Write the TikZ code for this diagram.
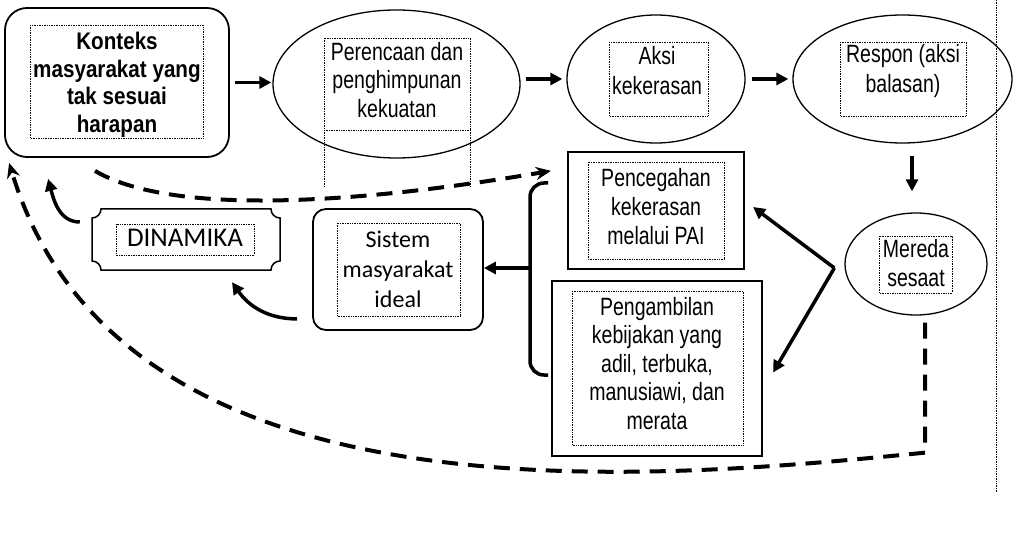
\documentclass[tikz,border=0pt]{standalone}
\usepackage{fontspec}
\setmainfont{Liberation Sans}[FakeStretch=0.78, BoldFeatures={FakeStretch=0.86}]
\newfontfamily\calibri{Carlito}
\usetikzlibrary{arrows.meta,shapes.geometric,positioning,calc}

\begin{document}
\begin{tikzpicture}[
    x=1pt, y=-1pt,
    oval/.style={draw, ellipse, line width=1.3pt, inner sep=0pt},
    sqbox/.style={draw, rectangle, line width=2.2pt, inner sep=0pt},
    rbox/.style={draw, rectangle, rounded corners=#1, line width=1.8pt, inner sep=0pt},
    dotbox/.style={densely dotted, line width=0.7pt},
    txt/.style={anchor=north, align=center, inner sep=0pt, font=\fontsize{25}{29}\selectfont},
    arr/.style={-{Triangle[length=12pt,width=12pt]}, line width=3.5pt},
    dasharr/.style={-{Stealth[length=15pt,width=13pt]}, line width=4pt, dash pattern=on 16pt off 10pt}
]
\useasboundingbox (0,0) rectangle (1028,540);

% shapes
\node[rbox=22pt, minimum width=224pt, minimum height=149pt] (konteks) at (117,82.5) {};
\node[oval, minimum width=247pt, minimum height=148pt] (perencaan) at (396.5,84) {};
\node[oval, minimum width=178pt, minimum height=128pt] (aksi) at (656,79) {};
\node[oval, minimum width=219pt, minimum height=128pt] (respon) at (902.5,79) {};
\node[oval, minimum width=142pt, minimum height=102pt] (mereda) at (916,264) {};
\node[sqbox, minimum width=176pt, minimum height=117pt] (pencegahan) at (656,210.5) {};
\node[sqbox, minimum width=210pt, minimum height=175pt] (pengambilan) at (657,368.5) {};
\node[rbox=13pt, minimum width=170pt, minimum height=121pt] (sistem) at (398,269.5) {};
\node[minimum width=188pt, minimum height=61pt, inner sep=0pt] (dinamika) at (186,239.5) {};
\draw[line width=1.5pt] (101,209) -- (271,209) .. controls (271,214) and (275,218) .. (280,218)
    -- (280,261) .. controls (275,261) and (271,265) .. (271,270)
    -- (101,270) .. controls (101,265) and (97,261) .. (92,261)
    -- (92,218) .. controls (97,218) and (101,214) .. (101,209) -- cycle;

% dotted text frames
\draw[dotbox] (30,25) rectangle (203,138);
\draw[dotbox] (324,38) rectangle (470,130);
\draw[dotbox] (324,130) -- (324,187) (470,130) -- (470,187);
\draw[dotbox] (609,42) rectangle (708,116);
\draw[dotbox] (840,42) rectangle (966,116);
\draw[dotbox] (879,236) rectangle (952,293);
\draw[dotbox] (588,162) rectangle (724,259);
\draw[dotbox] (572,291) rectangle (743,445);
\draw[dotbox] (337,223) rectangle (460,316);
\draw[dotbox] (116,224) rectangle (254,255);
\draw[dotbox] (996,0) -- (996,492);

% texts
\node[txt, font=\bfseries\fontsize{24}{27.5}\selectfont] (kontekst) at (117,32) {Konteks\\masyarakat yang\\tak sesuai\\harapan};
\node[txt, font=\fontsize{25}{28.5}\selectfont] (perencaant) at (397,42) {Perencaan dan\\penghimpunan\\kekuatan};
\node[txt, font=\fontsize{25}{30}\selectfont] (aksit) at (657,46) {Aksi\\kekerasan};
\node[txt, font=\fontsize{25}{30}\selectfont] (respont) at (903,44) {Respon (aksi\\balasan)};
\node[txt] (meredat) at (916,239) {Mereda\\sesaat};
\node[txt] (pencegahant) at (656,168) {Pencegahan\\kekerasan\\melalui PAI};
\node[txt, font=\fontsize{25}{28.5}\selectfont] (pengambilant) at (657,297) {Pengambilan\\kebijakan yang\\adil, terbuka,\\manusiawi, dan\\merata};
\node[txt, font=\calibri\fontsize{24}{30}\selectfont] (sistemt) at (398,231) {Sistem\\masyarakat\\ideal};
\node[txt, font=\calibri\fontsize{27}{30}\selectfont] (dinamikat) at (185,229) {DINAMIKA};

% bracket
\coordinate (brk) at (530,268);
\draw[line width=3.5pt, rounded corners=14pt] (548,183) -- (530,183) -- (530,375) -- (548,375);
\coordinate (fork) at ($(mereda.west)+(-10,4)$);

% connectors
\draw[arr] ($(konteks.east)+(5,0)$) -- ($(konteks.east -| perencaan.west)+(-1,0)$);
\draw[arr] ($(perencaan.east |- aksi.west)+(5,0)$) -- ($(aksi.west)+(-4,0)$);
\draw[arr] ($(aksi.east)+(6,0)$) -- ($(respon.west)+(-4,0)$);
\draw[arr] ([xshift=9.5pt,yshift=-12pt]respon.south) -- ([xshift=-4pt,yshift=21pt]mereda.north);
\draw[arr] (fork) -- ([xshift=8pt,yshift=3.5pt]pencegahan.east);
\draw[arr] (fork) -- ([xshift=10pt,yshift=-4pt]pengambilan.east);
\draw[arr] (brk) -- (sistem.east |- brk);
\draw[arr] ([xshift=-15pt,yshift=12pt]sistem.south west) to[out=180,in=-55] ([xshift=46pt,yshift=-12pt]dinamika.south);
\draw[arr] ([xshift=-12pt,yshift=17.5pt]dinamika.west) to[out=180,in=-75] ([xshift=44pt,yshift=-21pt]konteks.south west);
\draw[dasharr] ([xshift=-22pt,yshift=-13pt]konteks.south) .. controls (170,215) and (350,205) .. ([xshift=-16pt,yshift=-20pt]pencegahan.north west);
\draw[dasharr] ([xshift=9pt,yshift=-7pt]mereda.south) -- ++(0,130) .. controls (650,480) and (120,530) .. ([xshift=5pt,yshift=-5pt]konteks.south west);
\end{tikzpicture}
\end{document}
